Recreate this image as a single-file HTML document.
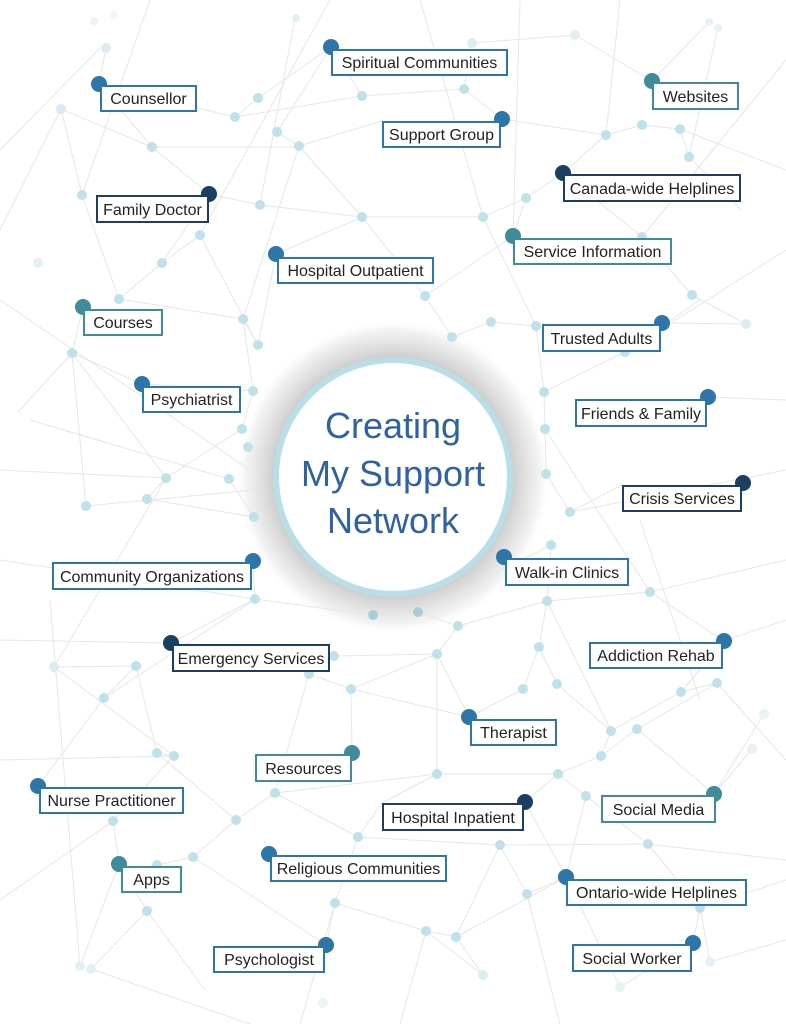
<!DOCTYPE html>
<html>
<head>
<meta charset="utf-8">
<style>
html,body{margin:0;padding:0;background:#fff;}
body{width:786px;height:1024px;overflow:hidden;position:relative;}
svg{position:absolute;left:0;top:0;}
.lbl{font-family:"Liberation Sans",Arial,sans-serif;font-size:16px;fill:#222;}
.ctr{font-family:"Liberation Sans",Arial,sans-serif;font-size:36px;fill:#2f62a2;}
</style>
</head>
<body>
<svg width="786" height="1024" viewBox="0 0 786 1024" xmlns="http://www.w3.org/2000/svg">
<defs>
<radialGradient id="glow" cx="393" cy="477" r="158" gradientUnits="userSpaceOnUse">
<stop offset="0.74" stop-color="#c9c9c9"/>
<stop offset="0.79" stop-color="#d6d6d6"/>
<stop offset="0.86" stop-color="#e5e5e5"/>
<stop offset="0.93" stop-color="#f3f3f3"/>
<stop offset="1" stop-color="#ffffff" stop-opacity="0"/>
</radialGradient>
</defs>
<rect width="786" height="1024" fill="#ffffff"/>
<circle cx="393" cy="477" r="158" fill="url(#glow)"/>
<g stroke="#e6e6e6" stroke-width="1" fill="none">
<line x1="106" y1="48" x2="99" y2="84"/>
<line x1="61" y1="109" x2="152" y2="147"/>
<line x1="61" y1="109" x2="0" y2="230"/>
<line x1="99" y1="84" x2="152" y2="147"/>
<line x1="99" y1="84" x2="235" y2="117"/>
<line x1="152" y1="147" x2="209" y2="194"/>
<line x1="152" y1="147" x2="300" y2="147"/>
<line x1="82" y1="195" x2="61" y2="109"/>
<line x1="82" y1="195" x2="119" y2="299"/>
<line x1="235" y1="117" x2="258" y2="98"/>
<line x1="235" y1="117" x2="362" y2="96"/>
<line x1="258" y1="98" x2="331" y2="47"/>
<line x1="331" y1="47" x2="362" y2="96"/>
<line x1="331" y1="47" x2="277" y2="132"/>
<line x1="362" y1="96" x2="464" y2="89"/>
<line x1="464" y1="89" x2="502" y2="119"/>
<line x1="464" y1="89" x2="472" y2="43"/>
<line x1="472" y1="43" x2="575" y2="35"/>
<line x1="575" y1="35" x2="652" y2="81"/>
<line x1="502" y1="119" x2="606" y2="135"/>
<line x1="606" y1="135" x2="642" y2="125"/>
<line x1="642" y1="125" x2="680" y2="129"/>
<line x1="680" y1="129" x2="689" y2="157"/>
<line x1="689" y1="157" x2="741" y2="210"/>
<line x1="606" y1="135" x2="563" y2="173"/>
<line x1="563" y1="173" x2="526" y2="198"/>
<line x1="526" y1="198" x2="513" y2="236"/>
<line x1="642" y1="237" x2="563" y2="173"/>
<line x1="642" y1="237" x2="692" y2="295"/>
<line x1="692" y1="295" x2="746" y2="324"/>
<line x1="746" y1="324" x2="662" y2="323"/>
<line x1="277" y1="132" x2="299" y2="146"/>
<line x1="299" y1="146" x2="382" y2="121"/>
<line x1="299" y1="146" x2="362" y2="217"/>
<line x1="362" y1="217" x2="483" y2="217"/>
<line x1="483" y1="217" x2="526" y2="198"/>
<line x1="362" y1="217" x2="276" y2="254"/>
<line x1="260" y1="205" x2="209" y2="194"/>
<line x1="260" y1="205" x2="362" y2="217"/>
<line x1="209" y1="194" x2="162" y2="263"/>
<line x1="162" y1="263" x2="119" y2="299"/>
<line x1="162" y1="263" x2="200" y2="235"/>
<line x1="119" y1="299" x2="243" y2="319"/>
<line x1="243" y1="319" x2="258" y2="345"/>
<line x1="258" y1="345" x2="276" y2="254"/>
<line x1="72" y1="353" x2="83" y2="307"/>
<line x1="72" y1="353" x2="142" y2="384"/>
<line x1="72" y1="353" x2="18" y2="412"/>
<line x1="72" y1="353" x2="86" y2="506"/>
<line x1="72" y1="353" x2="166" y2="478"/>
<line x1="142" y1="384" x2="253" y2="391"/>
<line x1="253" y1="391" x2="242" y2="429"/>
<line x1="242" y1="429" x2="166" y2="478"/>
<line x1="166" y1="478" x2="147" y2="499"/>
<line x1="147" y1="499" x2="254" y2="517"/>
<line x1="86" y1="506" x2="254" y2="490"/>
<line x1="30" y1="420" x2="229" y2="479"/>
<line x1="425" y1="296" x2="452" y2="337"/>
<line x1="452" y1="337" x2="491" y2="322"/>
<line x1="491" y1="322" x2="536" y2="326"/>
<line x1="425" y1="296" x2="513" y2="236"/>
<line x1="536" y1="326" x2="544" y2="392"/>
<line x1="544" y1="392" x2="545" y2="429"/>
<line x1="545" y1="429" x2="546" y2="474"/>
<line x1="546" y1="474" x2="570" y2="512"/>
<line x1="570" y1="512" x2="622" y2="485"/>
<line x1="544" y1="392" x2="625" y2="352"/>
<line x1="625" y1="352" x2="700" y2="300"/>
<line x1="545" y1="429" x2="650" y2="592"/>
<line x1="570" y1="512" x2="786" y2="470"/>
<line x1="640" y1="520" x2="700" y2="700"/>
<line x1="255" y1="599" x2="253" y2="561"/>
<line x1="255" y1="599" x2="171" y2="643"/>
<line x1="255" y1="599" x2="373" y2="615"/>
<line x1="373" y1="615" x2="418" y2="612"/>
<line x1="418" y1="612" x2="458" y2="626"/>
<line x1="458" y1="626" x2="437" y2="654"/>
<line x1="437" y1="654" x2="469" y2="717"/>
<line x1="54" y1="667" x2="136" y2="666"/>
<line x1="136" y1="666" x2="104" y2="698"/>
<line x1="104" y1="698" x2="38" y2="786"/>
<line x1="136" y1="666" x2="157" y2="753"/>
<line x1="157" y1="753" x2="174" y2="756"/>
<line x1="174" y1="756" x2="113" y2="821"/>
<line x1="334" y1="656" x2="309" y2="674"/>
<line x1="309" y1="674" x2="351" y2="689"/>
<line x1="351" y1="689" x2="352" y2="753"/>
<line x1="351" y1="689" x2="469" y2="717"/>
<line x1="275" y1="793" x2="358" y2="837"/>
<line x1="275" y1="793" x2="236" y2="820"/>
<line x1="236" y1="820" x2="193" y2="857"/>
<line x1="193" y1="857" x2="157" y2="865"/>
<line x1="113" y1="821" x2="119" y2="864"/>
<line x1="119" y1="864" x2="147" y2="911"/>
<line x1="147" y1="911" x2="91" y2="969"/>
<line x1="119" y1="864" x2="80" y2="966"/>
<line x1="147" y1="911" x2="205" y2="990"/>
<line x1="193" y1="857" x2="326" y2="945"/>
<line x1="358" y1="837" x2="382" y2="803"/>
<line x1="335" y1="903" x2="326" y2="945"/>
<line x1="335" y1="903" x2="426" y2="931"/>
<line x1="426" y1="931" x2="456" y2="937"/>
<line x1="456" y1="937" x2="483" y2="975"/>
<line x1="456" y1="937" x2="566" y2="877"/>
<line x1="500" y1="845" x2="648" y2="844"/>
<line x1="500" y1="845" x2="527" y2="894"/>
<line x1="648" y1="844" x2="700" y2="908"/>
<line x1="700" y1="908" x2="693" y2="943"/>
<line x1="700" y1="908" x2="710" y2="962"/>
<line x1="586" y1="796" x2="558" y2="774"/>
<line x1="558" y1="774" x2="601" y2="756"/>
<line x1="601" y1="756" x2="637" y2="729"/>
<line x1="637" y1="729" x2="717" y2="683"/>
<line x1="717" y1="683" x2="681" y2="692"/>
<line x1="681" y1="692" x2="611" y2="731"/>
<line x1="681" y1="692" x2="724" y2="641"/>
<line x1="551" y1="545" x2="547" y2="601"/>
<line x1="547" y1="601" x2="650" y2="592"/>
<line x1="650" y1="592" x2="724" y2="641"/>
<line x1="547" y1="601" x2="539" y2="647"/>
<line x1="539" y1="647" x2="523" y2="689"/>
<line x1="539" y1="647" x2="557" y2="684"/>
<line x1="523" y1="689" x2="469" y2="717"/>
<line x1="557" y1="684" x2="611" y2="731"/>
<line x1="437" y1="774" x2="437" y2="654"/>
<line x1="437" y1="774" x2="558" y2="774"/>
<line x1="437" y1="774" x2="382" y2="803"/>
<line x1="611" y1="731" x2="601" y2="756"/>
<line x1="586" y1="796" x2="648" y2="844"/>
<line x1="637" y1="729" x2="714" y2="794"/>
<line x1="714" y1="794" x2="764" y2="714"/>
<line x1="752" y1="749" x2="714" y2="794"/>
<line x1="558" y1="774" x2="525" y2="802"/>
<line x1="525" y1="802" x2="566" y2="877"/>
<line x1="527" y1="894" x2="566" y2="877"/>
<line x1="426" y1="931" x2="483" y2="975"/>
<line x1="620" y1="987" x2="693" y2="943"/>
<line x1="566" y1="877" x2="620" y2="987"/>
<line x1="275" y1="793" x2="437" y2="774"/>
<line x1="0" y1="760" x2="174" y2="756"/>
<line x1="104" y1="698" x2="255" y2="599"/>
<line x1="50" y1="600" x2="80" y2="966"/>
<line x1="295" y1="18" x2="260" y2="205"/>
<line x1="100" y1="48" x2="0" y2="150"/>
<line x1="709" y1="22" x2="652" y2="81"/>
<line x1="718" y1="28" x2="689" y2="157"/>
<line x1="0" y1="560" x2="255" y2="599"/>
<line x1="418" y1="612" x2="551" y2="545"/>
<line x1="458" y1="626" x2="547" y2="601"/>
<line x1="253" y1="391" x2="243" y2="319"/>
<line x1="229" y1="479" x2="254" y2="517"/>
<line x1="358" y1="837" x2="500" y2="845"/>
<line x1="648" y1="844" x2="786" y2="860"/>
<!-- extra long lines for density -->
<line x1="0" y1="300" x2="250" y2="470"/>
<line x1="150" y1="0" x2="82" y2="195"/>
<line x1="200" y1="235" x2="330" y2="0"/>
<line x1="420" y1="0" x2="483" y2="217"/>
<line x1="520" y1="0" x2="513" y2="236"/>
<line x1="620" y1="0" x2="606" y2="135"/>
<line x1="786" y1="60" x2="642" y2="237"/>
<line x1="786" y1="250" x2="625" y2="352"/>
<line x1="786" y1="400" x2="708" y2="397"/>
<line x1="680" y1="129" x2="786" y2="170"/>
<line x1="362" y1="217" x2="425" y2="296"/>
<line x1="483" y1="217" x2="536" y2="326"/>
<line x1="299" y1="146" x2="243" y2="319"/>
<line x1="0" y1="470" x2="166" y2="478"/>
<line x1="0" y1="640" x2="171" y2="643"/>
<line x1="54" y1="667" x2="174" y2="756"/>
<line x1="157" y1="753" x2="236" y2="820"/>
<line x1="309" y1="674" x2="275" y2="793"/>
<line x1="334" y1="656" x2="437" y2="654"/>
<line x1="547" y1="601" x2="611" y2="731"/>
<line x1="650" y1="592" x2="786" y2="560"/>
<line x1="724" y1="641" x2="786" y2="620"/>
<line x1="717" y1="683" x2="786" y2="760"/>
<line x1="586" y1="796" x2="566" y2="877"/>
<line x1="500" y1="845" x2="456" y2="937"/>
<line x1="358" y1="837" x2="335" y2="903"/>
<line x1="335" y1="903" x2="300" y2="1024"/>
<line x1="426" y1="931" x2="400" y2="1024"/>
<line x1="527" y1="894" x2="560" y2="1024"/>
<line x1="700" y1="908" x2="786" y2="880"/>
<line x1="710" y1="962" x2="786" y2="940"/>
<line x1="91" y1="969" x2="250" y2="1024"/>
<line x1="0" y1="900" x2="113" y2="821"/>
<line x1="166" y1="478" x2="54" y2="667"/>
<line x1="437" y1="654" x2="351" y2="689"/>
<line x1="200" y1="235" x2="258" y2="345"/>
</g>
<g fill="#bfe1ea">
<circle cx="106" cy="48" r="5" fill="#d9ecf1"/>
<circle cx="94" cy="21" r="4" fill="#eaf4f6"/>
<circle cx="114" cy="15" r="4" fill="#eef6f7"/>
<circle cx="296" cy="18" r="4" fill="#e3f0f3"/>
<circle cx="61" cy="109" r="5" fill="#d6ebf0"/>
<circle cx="235" cy="117" r="5"/>
<circle cx="152" cy="147" r="5"/>
<circle cx="82" cy="195" r="5"/>
<circle cx="258" cy="98" r="5"/>
<circle cx="260" cy="205" r="5"/>
<circle cx="362" cy="96" r="5"/>
<circle cx="464" cy="89" r="5"/>
<circle cx="277" cy="132" r="5"/>
<circle cx="299" cy="146" r="5"/>
<circle cx="362" cy="217" r="5"/>
<circle cx="483" cy="217" r="5"/>
<circle cx="425" cy="296" r="5"/>
<circle cx="472" cy="43" r="5" fill="#dcedf2"/>
<circle cx="575" cy="35" r="5" fill="#e3f0f3"/>
<circle cx="709" cy="22" r="4" fill="#e6f2f4"/>
<circle cx="718" cy="28" r="4" fill="#e6f2f4"/>
<circle cx="606" cy="135" r="5"/>
<circle cx="642" cy="125" r="5"/>
<circle cx="680" cy="129" r="5"/>
<circle cx="689" cy="157" r="5"/>
<circle cx="526" cy="198" r="5"/>
<circle cx="642" cy="237" r="5"/>
<circle cx="692" cy="295" r="5"/>
<circle cx="746" cy="324" r="5" fill="#dcedf2"/>
<circle cx="200" cy="235" r="5"/>
<circle cx="38" cy="263" r="5" fill="#e3f0f3"/>
<circle cx="162" cy="263" r="5"/>
<circle cx="119" cy="299" r="5"/>
<circle cx="243" cy="319" r="5"/>
<circle cx="258" cy="345" r="5"/>
<circle cx="72" cy="353" r="5"/>
<circle cx="253" cy="391" r="5"/>
<circle cx="242" cy="429" r="5"/>
<circle cx="248" cy="447" r="5"/>
<circle cx="166" cy="478" r="5"/>
<circle cx="229" cy="479" r="5"/>
<circle cx="147" cy="499" r="5"/>
<circle cx="86" cy="506" r="5"/>
<circle cx="254" cy="517" r="5"/>
<circle cx="452" cy="337" r="5"/>
<circle cx="491" cy="322" r="5"/>
<circle cx="536" cy="326" r="5"/>
<circle cx="625" cy="352" r="5"/>
<circle cx="544" cy="392" r="5"/>
<circle cx="545" cy="429" r="5"/>
<circle cx="546" cy="474" r="5"/>
<circle cx="570" cy="512" r="5"/>
<circle cx="255" cy="599" r="5"/>
<circle cx="373" cy="615" r="5" fill="#a9cdd8"/>
<circle cx="418" cy="612" r="5" fill="#a9cdd8"/>
<circle cx="54" cy="667" r="5" fill="#d9ecf1"/>
<circle cx="136" cy="666" r="5"/>
<circle cx="104" cy="698" r="5"/>
<circle cx="334" cy="656" r="5"/>
<circle cx="309" cy="674" r="5"/>
<circle cx="351" cy="689" r="5"/>
<circle cx="157" cy="753" r="5"/>
<circle cx="174" cy="756" r="5"/>
<circle cx="275" cy="793" r="5"/>
<circle cx="551" cy="545" r="5"/>
<circle cx="547" cy="601" r="5"/>
<circle cx="650" cy="592" r="5"/>
<circle cx="458" cy="626" r="5"/>
<circle cx="437" cy="654" r="5"/>
<circle cx="539" cy="647" r="5"/>
<circle cx="523" cy="689" r="5"/>
<circle cx="557" cy="684" r="5"/>
<circle cx="681" cy="692" r="5"/>
<circle cx="717" cy="683" r="5"/>
<circle cx="764" cy="714" r="5" fill="#eaf4f6"/>
<circle cx="752" cy="749" r="5" fill="#e6f2f4"/>
<circle cx="611" cy="731" r="5"/>
<circle cx="637" cy="729" r="5"/>
<circle cx="601" cy="756" r="5"/>
<circle cx="437" cy="774" r="5"/>
<circle cx="558" cy="774" r="5"/>
<circle cx="586" cy="796" r="5"/>
<circle cx="113" cy="821" r="5"/>
<circle cx="236" cy="820" r="5"/>
<circle cx="358" cy="837" r="5"/>
<circle cx="193" cy="857" r="5"/>
<circle cx="157" cy="865" r="5"/>
<circle cx="335" cy="903" r="5"/>
<circle cx="147" cy="911" r="5"/>
<circle cx="500" cy="845" r="5"/>
<circle cx="648" cy="844" r="5"/>
<circle cx="527" cy="894" r="5"/>
<circle cx="700" cy="908" r="5"/>
<circle cx="426" cy="931" r="5"/>
<circle cx="456" cy="937" r="5"/>
<circle cx="483" cy="975" r="5" fill="#dcedf2"/>
<circle cx="710" cy="962" r="5" fill="#e3f0f3"/>
<circle cx="620" cy="987" r="5" fill="#e6f2f4"/>
<circle cx="80" cy="966" r="5" fill="#e3f0f3"/>
<circle cx="91" cy="969" r="5" fill="#e3f0f3"/>
<circle cx="323" cy="1003" r="5" fill="#eaf4f6"/>
</g>
<circle cx="393" cy="477" r="117" fill="#ffffff" stroke="#b8dee7" stroke-width="6"/>
<text class="ctr" x="393" y="438" text-anchor="middle">Creating</text>
<text class="ctr" x="393" y="486" text-anchor="middle">My Support</text>
<text class="ctr" x="393" y="533" text-anchor="middle">Network</text>

<g>
<circle cx="331" cy="47" r="8" fill="#2e75aa"/>
<rect x="332" y="50" width="175" height="25" fill="#fff" stroke="#2e75aa" stroke-width="2"/>
<text class="lbl" x="419.5" y="68" text-anchor="middle">Spiritual Communities</text>

<circle cx="99" cy="84" r="8" fill="#2e75aa"/>
<rect x="101" y="86" width="95" height="25" fill="#fff" stroke="#2e75aa" stroke-width="2"/>
<text class="lbl" x="148.5" y="104" text-anchor="middle">Counsellor</text>

<circle cx="652" cy="81" r="8" fill="#3f8b99"/>
<rect x="653" y="83" width="85" height="26" fill="#fff" stroke="#3f8b99" stroke-width="2"/>
<text class="lbl" x="695.5" y="102" text-anchor="middle">Websites</text>

<circle cx="502" cy="119" r="8" fill="#2e75aa"/>
<rect x="383" y="122" width="117" height="25" fill="#fff" stroke="#2e75aa" stroke-width="2"/>
<text class="lbl" x="441.5" y="140" text-anchor="middle">Support Group</text>

<circle cx="563" cy="173" r="8" fill="#1b3e63"/>
<rect x="564" y="175" width="176" height="26" fill="#fff" stroke="#1b3e63" stroke-width="2"/>
<text class="lbl" x="652" y="194" text-anchor="middle">Canada-wide Helplines</text>

<circle cx="209" cy="194" r="8" fill="#1b3e63"/>
<rect x="97" y="196" width="111" height="26" fill="#fff" stroke="#1b3e63" stroke-width="2"/>
<text class="lbl" x="152.5" y="215" text-anchor="middle">Family Doctor</text>

<circle cx="513" cy="236" r="8" fill="#3f8b99"/>
<rect x="514" y="239" width="157" height="25" fill="#fff" stroke="#3f8b99" stroke-width="2"/>
<text class="lbl" x="592.5" y="257" text-anchor="middle">Service Information</text>

<circle cx="276" cy="254" r="8" fill="#2e75aa"/>
<rect x="278" y="258" width="155" height="25" fill="#fff" stroke="#2e75aa" stroke-width="2"/>
<text class="lbl" x="355.5" y="276" text-anchor="middle">Hospital Outpatient</text>

<circle cx="83" cy="307" r="8" fill="#3f8b99"/>
<rect x="84" y="310" width="78" height="25" fill="#fff" stroke="#3f8b99" stroke-width="2"/>
<text class="lbl" x="123" y="328" text-anchor="middle">Courses</text>

<circle cx="662" cy="323" r="8" fill="#2e75aa"/>
<rect x="543" y="325" width="117" height="26" fill="#fff" stroke="#2e75aa" stroke-width="2"/>
<text class="lbl" x="601.5" y="344" text-anchor="middle">Trusted Adults</text>

<circle cx="142" cy="384" r="8" fill="#2e75aa"/>
<rect x="143" y="387" width="97" height="25" fill="#fff" stroke="#2e75aa" stroke-width="2"/>
<text class="lbl" x="191.5" y="405" text-anchor="middle">Psychiatrist</text>

<circle cx="708" cy="397" r="8" fill="#2e75aa"/>
<rect x="576" y="400" width="130" height="26" fill="#fff" stroke="#2e75aa" stroke-width="2"/>
<text class="lbl" x="641" y="419" text-anchor="middle">Friends &amp; Family</text>

<circle cx="743" cy="483" r="8" fill="#1b3e63"/>
<rect x="623" y="486" width="118" height="25" fill="#fff" stroke="#1b3e63" stroke-width="2"/>
<text class="lbl" x="682" y="504" text-anchor="middle">Crisis Services</text>

<circle cx="253" cy="561" r="8" fill="#2e75aa"/>
<rect x="53" y="563" width="198" height="26" fill="#fff" stroke="#2e75aa" stroke-width="2"/>
<text class="lbl" x="152" y="582" text-anchor="middle">Community Organizations</text>

<circle cx="504" cy="557" r="8" fill="#2e75aa"/>
<rect x="506" y="559" width="122" height="26" fill="#fff" stroke="#2e75aa" stroke-width="2"/>
<text class="lbl" x="567" y="578" text-anchor="middle">Walk-in Clinics</text>

<circle cx="171" cy="643" r="8" fill="#1b3e63"/>
<rect x="173" y="645" width="156" height="26" fill="#fff" stroke="#1b3e63" stroke-width="2"/>
<text class="lbl" x="251" y="664" text-anchor="middle">Emergency Services</text>

<circle cx="724" cy="641" r="8" fill="#2e75aa"/>
<rect x="590" y="643" width="132" height="25" fill="#fff" stroke="#2e75aa" stroke-width="2"/>
<text class="lbl" x="656" y="661" text-anchor="middle">Addiction Rehab</text>

<circle cx="469" cy="717" r="8" fill="#2e75aa"/>
<rect x="471" y="720" width="85" height="25" fill="#fff" stroke="#2e75aa" stroke-width="2"/>
<text class="lbl" x="513.5" y="738" text-anchor="middle">Therapist</text>

<circle cx="352" cy="753" r="8" fill="#3f8b99"/>
<rect x="256" y="755" width="95" height="26" fill="#fff" stroke="#3f8b99" stroke-width="2"/>
<text class="lbl" x="303.5" y="774" text-anchor="middle">Resources</text>

<circle cx="38" cy="786" r="8" fill="#2e75aa"/>
<rect x="40" y="788" width="143" height="25" fill="#fff" stroke="#2e75aa" stroke-width="2"/>
<text class="lbl" x="111.5" y="806" text-anchor="middle">Nurse Practitioner</text>

<circle cx="525" cy="802" r="8" fill="#1b3e63"/>
<rect x="383" y="804" width="140" height="26" fill="#fff" stroke="#1b3e63" stroke-width="2"/>
<text class="lbl" x="453" y="823" text-anchor="middle">Hospital Inpatient</text>

<circle cx="714" cy="794" r="8" fill="#3f8b99"/>
<rect x="602" y="796" width="113" height="26" fill="#fff" stroke="#3f8b99" stroke-width="2"/>
<text class="lbl" x="658.5" y="815" text-anchor="middle">Social Media</text>

<circle cx="269" cy="854" r="8" fill="#2e75aa"/>
<rect x="271" y="856" width="175" height="25" fill="#fff" stroke="#2e75aa" stroke-width="2"/>
<text class="lbl" x="358.5" y="874" text-anchor="middle">Religious Communities</text>

<circle cx="119" cy="864" r="8" fill="#3f8b99"/>
<rect x="122" y="867" width="59" height="25" fill="#fff" stroke="#3f8b99" stroke-width="2"/>
<text class="lbl" x="151.5" y="885" text-anchor="middle">Apps</text>

<circle cx="566" cy="877" r="8" fill="#2e75aa"/>
<rect x="567" y="880" width="179" height="25" fill="#fff" stroke="#2e75aa" stroke-width="2"/>
<text class="lbl" x="656.5" y="898" text-anchor="middle">Ontario-wide Helplines</text>

<circle cx="326" cy="945" r="8" fill="#2e75aa"/>
<rect x="214" y="947" width="110" height="25" fill="#fff" stroke="#2e75aa" stroke-width="2"/>
<text class="lbl" x="269" y="965" text-anchor="middle">Psychologist</text>

<circle cx="693" cy="943" r="8" fill="#2e75aa"/>
<rect x="573" y="945" width="118" height="26" fill="#fff" stroke="#2e75aa" stroke-width="2"/>
<text class="lbl" x="632" y="964" text-anchor="middle">Social Worker</text>
</g>
</svg>
</body>
</html>
